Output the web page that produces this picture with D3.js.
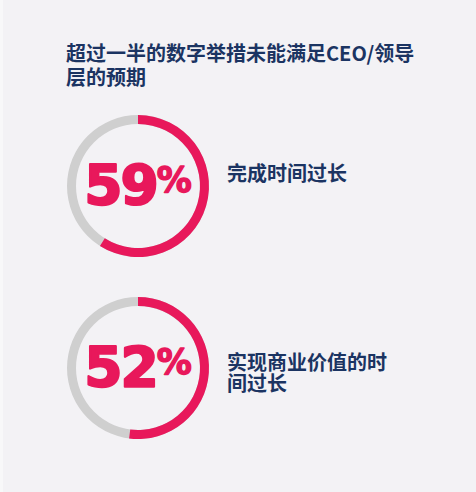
<!DOCTYPE html>
<html>
<head>
<meta charset="utf-8">
<script src="https://cdn.jsdelivr.net/npm/d3@7"></script>
<style>
  html, body { margin: 0; padding: 0; background: #f3f2f5; }
  svg { display: block; }
</style>
</head>
<body>
<div id="chart"></div>
<script>
// chart data
var titleLines = ["超过一半的数字举措未能满足CEO/领导", "层的预期"];
var shares = [59, 52];
var labels = [["完成时间过长"], ["实现商业价值的时", "间过长"]];

var width = 476, height = 492;
var red = "#e8185b", grey = "#cfcfcf", navy = "#1b3462";

var svg = d3.select("#chart")
    .append("svg")
    .attr("width", width)
    .attr("height", height);

svg.append("rect")
    .attr("width", width)
    .attr("height", height)
    .attr("fill", "#f3f2f5");

// faint lighter strip at the left edge
svg.append("rect")
    .attr("width", 3)
    .attr("height", height)
    .attr("fill", "#f8f8f9");

svg.append("text")
    .attr("x", 66)
    .attr("y", 61)
    .style("font-family", "'Noto Sans CJK SC', 'Noto Sans', sans-serif")
    .style("font-size", "20px")
    .style("font-weight", "bold")
    .attr("fill", navy)
    .selectAll("tspan")
    .data(titleLines)
    .enter()
    .append("tspan")
    .attr("x", 66)
    .attr("dy", function(d, i) { return i ? 24 : 0; })
    .text(function(d) { return d; });

// scales
var angle = d3.scaleLinear().domain([0, 100]).range([0, 2 * Math.PI]);
var yPos = d3.scalePoint().domain(d3.range(shares.length)).range([186, 368]);
var cx = 138;

var arc = d3.arc().innerRadius(62).outerRadius(71);

var rings = svg.selectAll("g.ring")
    .data(shares)
    .enter()
    .append("g")
    .attr("class", "ring")
    .attr("transform", function(d, i) {
      return "translate(" + cx + "," + yPos(i) + ")";
    });

// grey track
rings.append("path")
    .attr("fill", grey)
    .attr("d", arc({startAngle: 0, endAngle: 2 * Math.PI}));

// red share
rings.append("path")
    .attr("fill", red)
    .attr("d", function(d) {
      return arc({startAngle: 0, endAngle: angle(d)});
    });

var num = rings.append("text")
    .attr("x", 0)
    .attr("y", 18)
    .attr("text-anchor", "middle")
    .style("font-family", "'DejaVu Sans', sans-serif")
    .style("font-weight", "bold")
    .attr("fill", red)
    .attr("stroke", red)
    .attr("stroke-width", 2.2)
    .attr("stroke-linejoin", "round");

num.append("tspan")
    .style("font-size", "55px")
    .attr("letter-spacing", "-2")
    .text(function(d) { return d; });

num.append("tspan")
    .style("font-size", "35px")
    .attr("dy", -12)
    .attr("stroke-width", 1.4)
    .text("%");

// labels right of each ring
rings.append("text")
    .attr("x", 227 - cx)
    .attr("y", function(d, i) { return labels[i].length > 1 ? 2 : -5; })
    .style("font-family", "'Noto Sans CJK SC', 'Noto Sans', sans-serif")
    .style("font-size", "20px")
    .style("font-weight", "bold")
    .attr("fill", navy)
    .selectAll("tspan")
    .data(function(d, i) { return labels[i]; })
    .enter()
    .append("tspan")
    .attr("x", 227 - cx)
    .attr("dy", function(d, i) { return i ? 21 : 0; })
    .text(function(d) { return d; });
</script>
</body>
</html>
